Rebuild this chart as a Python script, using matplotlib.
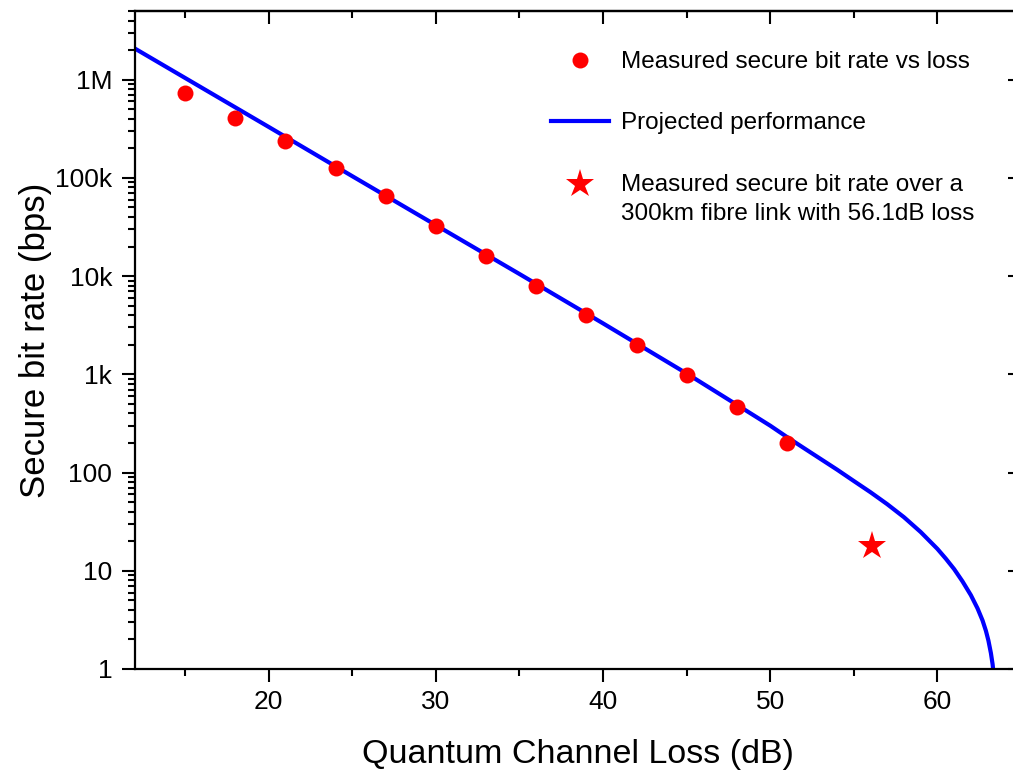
import matplotlib
matplotlib.use("Agg")
import matplotlib.pyplot as plt
from matplotlib.ticker import FixedLocator, FixedFormatter, MultipleLocator, LogLocator, NullFormatter

plt.rcParams['font.family'] = ['Liberation Sans', 'DejaVu Sans']

# Measured secure bit rate vs loss
meas_loss = [15, 18, 21, 24, 27, 30, 33, 36, 39, 42, 45, 48, 51]
meas_rate = [7.4e5, 4.1e5, 2.4e5, 1.25e5, 6.5e4, 3.2e4, 1.6e4, 7.9e3, 4.0e3, 1.98e3, 980, 463, 199]

# Projected performance curve
proj_loss = [12, 20, 25, 30, 35, 40, 45, 48, 50, 51, 52, 53, 54, 55, 56, 57, 58, 59,
             60, 60.5, 61, 61.5, 62, 62.4, 62.7, 62.9, 63.05, 63.2, 63.3, 63.4]
proj_rate = [2.07e6, 3.3e5, 1.04e5, 3.3e4, 1.05e4, 3.3e3, 1.02e3, 490, 300, 230, 178, 138,
             107, 82, 63, 47.6, 35.1, 24.8, 16.7, 13.3, 10.4, 7.8, 5.65, 4.14, 3.12, 2.45,
             1.95, 1.45, 1.12, 0.79]

# 300 km fibre link measurement
star_loss = [56.1]
star_rate = [17.8]

ytick_vals = [1, 10, 100, 1e3, 1e4, 1e5, 1e6]
ytick_labels = ['1', '10', '100', '1k', '10k', '100k', '1M']
xtick_vals = [20, 30, 40, 50, 60]

W, H = 1013, 771
fig = plt.figure(figsize=(W / 100, H / 100), dpi=100)
ax_l, ax_r, ax_t, ax_b = 135, 1021, 11, 669
ax = fig.add_axes([ax_l / W, 1 - ax_b / H, (ax_r - ax_l) / W, (ax_b - ax_t) / H])

ax.plot(meas_loss, meas_rate, 'o', color='#ff0000', markersize=11.5, markeredgewidth=0,
        label='Measured secure bit rate vs loss', zorder=3)
ax.plot(proj_loss, proj_rate, '-', color='#0000ff', linewidth=3,
        label='Projected performance', zorder=2)
ax.plot(star_loss, star_rate, '*', color='#ff0000', markersize=21, markeredgewidth=0,
        label='Measured secure bit rate over a\n300km fibre link with 56.1dB loss', zorder=3)

ax.set_yscale('log')
ax.set_xlim(12, 65)
ax.set_ylim(1, 5e6)

ax.yaxis.set_major_locator(FixedLocator(ytick_vals))
ax.yaxis.set_major_formatter(FixedFormatter(ytick_labels))
ax.yaxis.set_minor_locator(LogLocator(base=10, subs=range(2, 10), numticks=20))
ax.yaxis.set_minor_formatter(NullFormatter())
ax.xaxis.set_major_locator(FixedLocator(xtick_vals))
ax.xaxis.set_minor_locator(MultipleLocator(5))

px = 72 / 100
for s in ax.spines.values():
    s.set_linewidth(1.6)
ax.tick_params(which='major', direction='out', length=13 * px, width=1.5, labelsize=19, colors='black')
ax.tick_params(which='minor', direction='out', length=7 * px, width=1.5)
ax.tick_params(axis='y', which='major', pad=7)
ax.tick_params(axis='x', which='major', pad=6)

secx = ax.secondary_xaxis('top')
secx.xaxis.set_major_locator(FixedLocator(xtick_vals))
secx.xaxis.set_minor_locator(MultipleLocator(5))
secx.tick_params(which='major', direction='in', length=13 * px, width=1.5, labeltop=False)
secx.tick_params(which='minor', direction='in', length=7 * px, width=1.5)
secx.spines['top'].set_linewidth(1.6)

secy = ax.secondary_yaxis('right')
secy.yaxis.set_major_locator(FixedLocator(ytick_vals))
secy.yaxis.set_minor_locator(LogLocator(base=10, subs=range(2, 10), numticks=20))
secy.tick_params(which='major', direction='in', length=13 * px, width=1.5, labelright=False)
secy.tick_params(which='minor', direction='in', length=7 * px, width=1.5, labelright=False)
secy.yaxis.set_minor_formatter(NullFormatter())

ax.set_xlabel('Quantum Channel Loss (dB)', fontsize=24.5, labelpad=18)
ax.set_ylabel('Secure bit rate (bps)', fontsize=25, labelpad=2)

leg = ax.legend(loc='upper left', bbox_to_anchor=(551 / W, 1 - 51 / H),
                bbox_transform=fig.transFigure, frameon=False, fontsize=17.5,
                handlelength=2.4, handletextpad=0.5, labelspacing=1.62,
                borderpad=0, borderaxespad=0)
for t in leg.get_texts():
    t.set_linespacing(1.45)

# align the star handle with the first line of its two-line label
star_handle = leg.legend_handles[2]
yd = star_handle.get_ydata()
star_handle.set_ydata([v + 11 for v in yd])

fig.savefig('out.png', dpi=100)
